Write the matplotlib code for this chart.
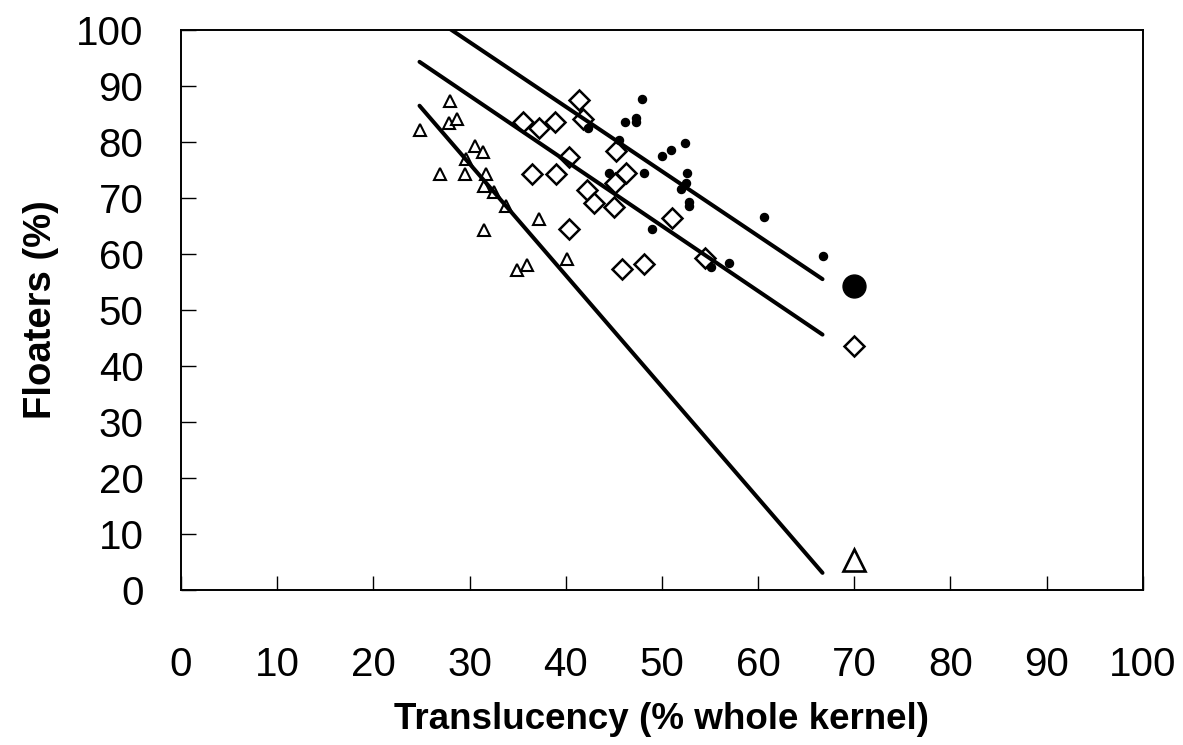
import numpy as np
import matplotlib
matplotlib.use("Agg")
import matplotlib.pyplot as plt

plt.rcParams['font.family'] = ['Liberation Sans', 'DejaVu Sans']

# triangles (open)
tri_x = [28.0, 24.8, 27.9, 28.7, 30.6, 31.4, 29.6, 26.9, 29.5, 31.7, 31.5, 32.5,
         33.8, 31.5, 37.2, 34.9, 36.0, 40.1]
tri_y = [87.3, 82.2, 83.3, 84.0, 79.3, 78.1, 76.9, 74.2, 74.2, 74.2, 72.2, 71.1,
         68.6, 64.2, 66.2, 57.2, 58.0, 59.1]

# diamonds (open)
dia_x = [41.4, 41.8, 35.6, 37.2, 38.9, 45.2, 40.3, 36.5, 39.0, 46.3, 45.1, 42.2,
         42.9, 45.0, 51.0, 54.5, 45.9, 48.1, 40.3]
dia_y = [87.5, 84.0, 83.5, 82.4, 83.5, 78.4, 77.3, 74.3, 74.3, 74.4, 72.6, 71.4,
         69.0, 68.4, 66.4, 59.2, 57.3, 58.2, 64.4]

# small filled dots
dot_x = [47.9, 46.2, 47.3, 47.3, 42.3, 45.5, 52.4, 50.9, 50.0, 44.5, 48.1, 52.6,
         52.5, 52.0, 52.8, 52.8, 60.6, 49.0, 57.0, 55.1, 66.7]
dot_y = [87.6, 83.6, 84.3, 83.6, 82.4, 80.4, 79.8, 78.6, 77.5, 74.5, 74.5, 74.5,
         72.6, 71.6, 69.3, 68.6, 66.6, 64.5, 58.4, 57.6, 59.6]

# large markers at 70 %
big_x = 70.0
big_dot_y = 54.3
big_dia_y = 43.6
big_tri_y = 5.4

# trend lines: slope, intercept, common x range
fit_dot = (-1.153, 132.4)
fit_dia = (-1.162, 123.1)
fit_tri = (-1.990, 135.8)
fit_range = [24.8, 66.7]

ticks = [0, 10, 20, 30, 40, 50, 60, 70, 80, 90, 100]

fig = plt.figure(figsize=(11.83, 7.45), dpi=100)
ax = fig.add_axes([0.153, 0.208, 0.813, 0.752])

ax.plot(tri_x, tri_y, linestyle='none', marker='^', markersize=8.5,
        markerfacecolor='white', markeredgecolor='black', markeredgewidth=1.5)
ax.plot(dia_x, dia_y, linestyle='none', marker='D', markersize=10,
        markerfacecolor='white', markeredgecolor='black', markeredgewidth=1.8)
ax.plot(dot_x, dot_y, linestyle='none', marker='o', markersize=5.8,
        color='black')

ax.plot([big_x], [big_dot_y], marker='o', markersize=16.5, color='black', linestyle='none')
ax.plot([big_x], [big_dia_y], marker='D', markersize=10, markerfacecolor='white',
        markeredgecolor='black', markeredgewidth=1.8, linestyle='none')
ax.plot([big_x], [big_tri_y], marker='^', markersize=15.5, markerfacecolor='white',
        markeredgecolor='black', markeredgewidth=1.9, linestyle='none')

xx = np.array(fit_range)
for m, b in [fit_dot, fit_dia, fit_tri]:
    ax.plot(xx, m * xx + b, color='black', linewidth=2.9, zorder=5,
            solid_capstyle='round')

ax.set_xlim(0, 100)
ax.set_ylim(0, 100)
ax.set_xticks(ticks)
ax.set_yticks(ticks)
ax.tick_params(axis='x', direction='in', length=10, width=1, labelsize=29, pad=40)
ax.tick_params(axis='y', direction='in', length=11, width=1, labelsize=29, pad=27)
for sp in ax.spines.values():
    sp.set_linewidth(1.4)

ax.set_xlabel('Translucency (% whole kernel)', fontsize=26.5, fontweight='bold', labelpad=13)
ax.set_ylabel('Floaters (%)', fontsize=27.5, fontweight='bold', labelpad=12)

fig.savefig('out.png', dpi=100)
